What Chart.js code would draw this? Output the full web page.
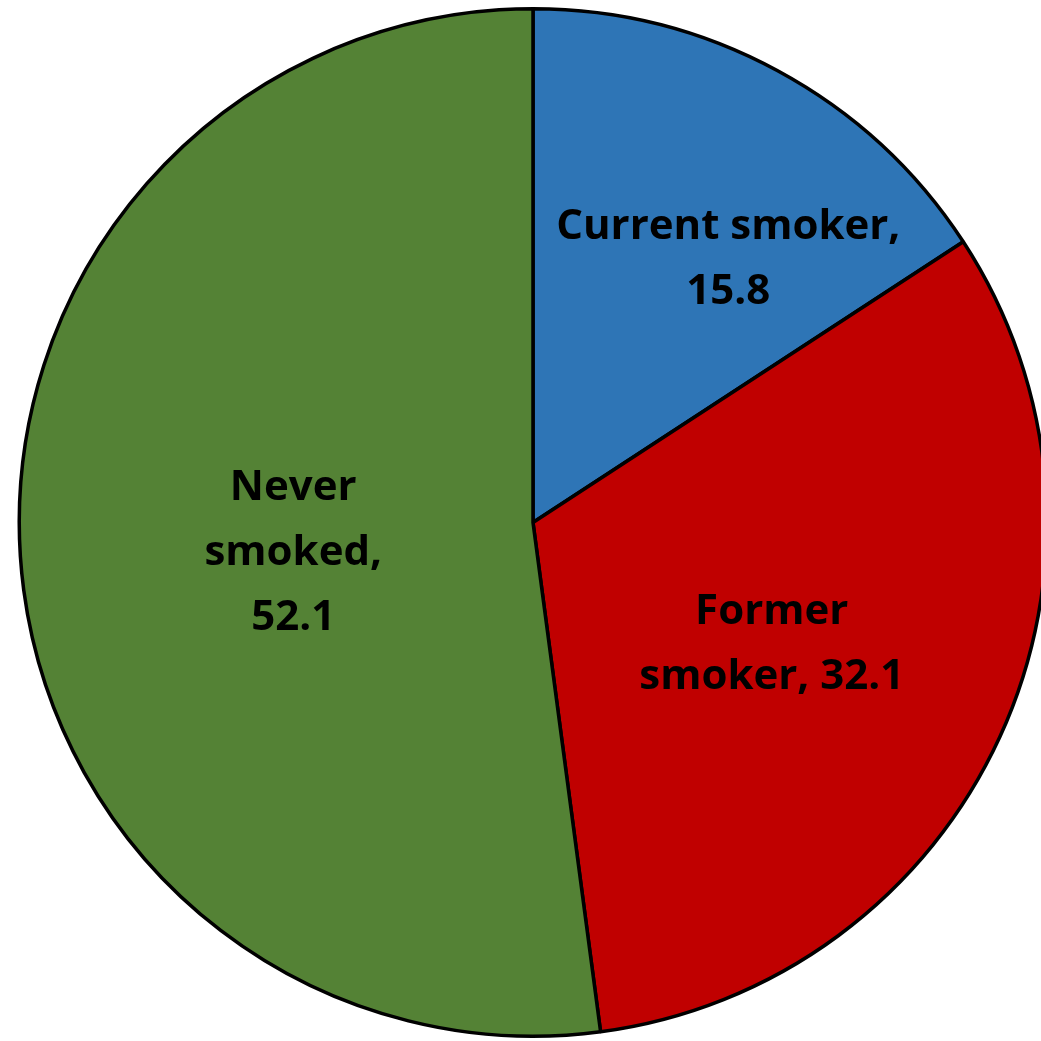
<meta charset="UTF-8">
<title>Smoking status</title>
<script src="https://cdn.jsdelivr.net/npm/chart.js"></script>
<style>
  html, body { margin: 0; padding: 0; overflow: hidden; background: #fff; }
  #wrap { width: 1066px; height: 1045px; }
</style>
<div id="wrap"><canvas id="pieChart" width="1066" height="1045"></canvas></div>
<script>
var categories = ['Current smoker', 'Former smoker', 'Never smoked'];
var values = [15.8, 32.1, 52.1];
// how each label is broken into lines
var labelLines = [
    ['Current smoker,', '15.8'],
    ['Former', 'smoker, 32.1'],
    ['Never', 'smoked,', '52.1']
];
var sliceColors = ['#2E75B6', '#C00000', '#548235'];

// label placement: angle shift (deg) from slice middle, distance as fraction of radius
var labelPlace = [
    { dAng: 8, r: 0.64 },
    { dAng: 2, r: 0.52 },
    { dAng: -3, r: 0.47 }
];

var sliceLabels = {
    id: 'sliceLabels',
    afterDatasetsDraw: function(chart) {
        var ctx = chart.ctx;
        var meta = chart.getDatasetMeta(0);
        ctx.save();
        ctx.font = 'bold 42px "Open Sans", sans-serif';
        ctx.fillStyle = '#000';
        ctx.textAlign = 'center';
        ctx.textBaseline = 'middle';
        meta.data.forEach(function(arc, i) {
            var p = arc.getProps(['x', 'y', 'startAngle', 'endAngle', 'outerRadius'], true);
            var mid = (p.startAngle + p.endAngle) / 2 + labelPlace[i].dAng * Math.PI / 180;
            var cx = p.x + Math.cos(mid) * p.outerRadius * labelPlace[i].r;
            var cy = p.y + Math.sin(mid) * p.outerRadius * labelPlace[i].r;
            var lines = labelLines[i];
            var lh = 65;
            lines.forEach(function(t, j) {
                ctx.fillText(t, cx, cy + 2 + (j - (lines.length - 1) / 2) * lh);
            });
        });
        ctx.restore();
    }
};

new Chart(document.getElementById('pieChart'), {
    type: 'pie',
    data: {
        labels: categories,
        datasets: [{
            data: values,
            backgroundColor: sliceColors,
            borderColor: '#000',
            borderWidth: 3.5
        }]
    },
    options: {
        responsive: false,
        animation: false,
        layout: { padding: 7 },
        plugins: {
            legend: { display: false },
            tooltip: { enabled: false }
        }
    },
    plugins: [sliceLabels]
});
</script>
